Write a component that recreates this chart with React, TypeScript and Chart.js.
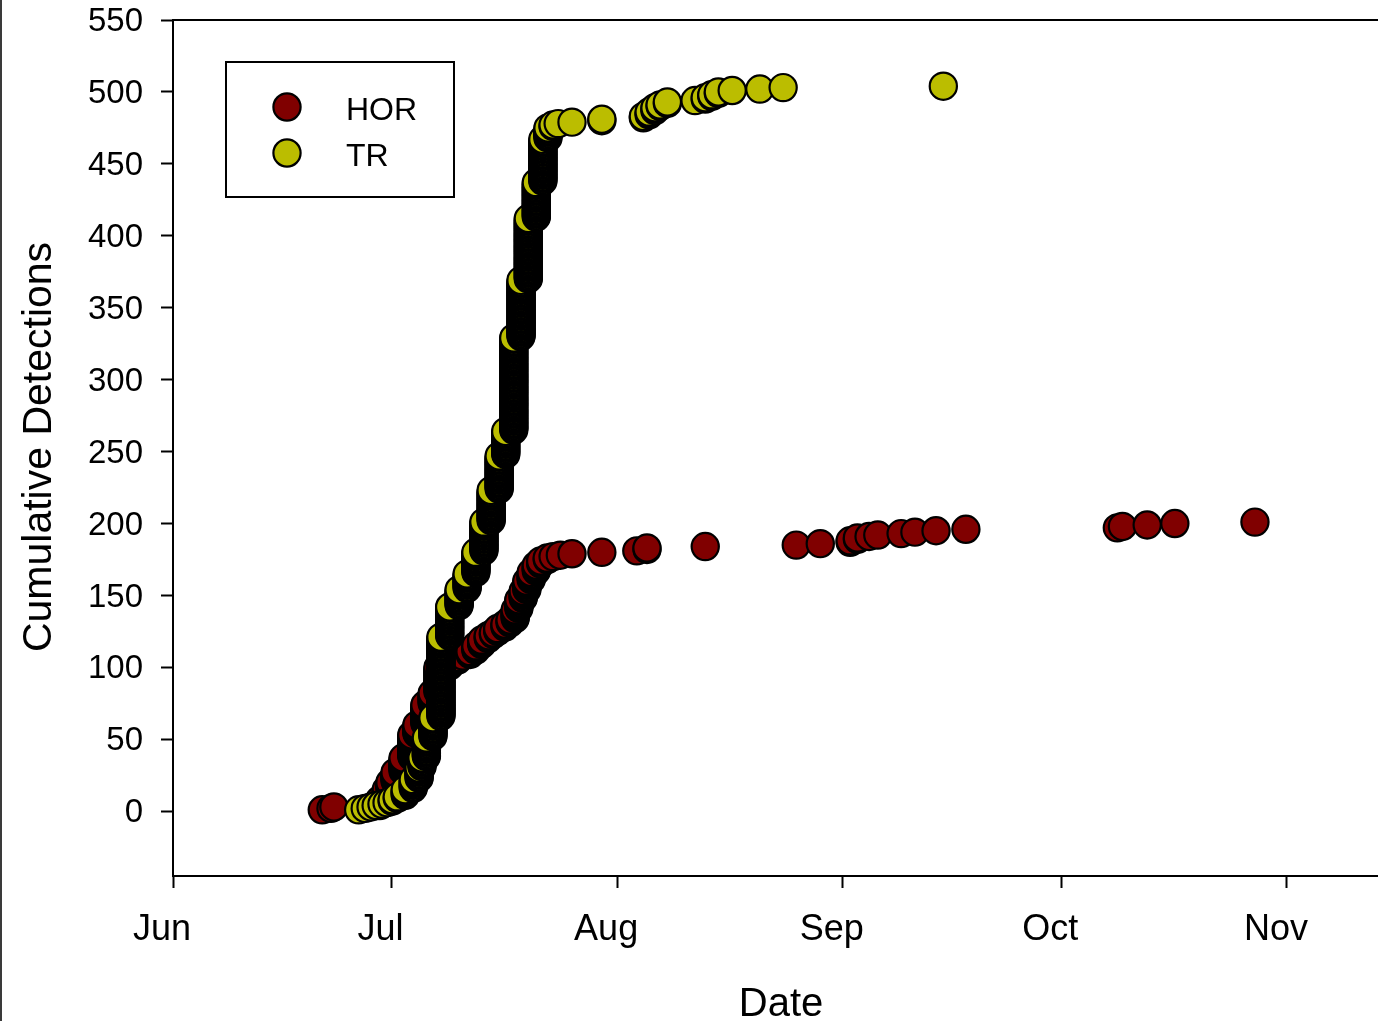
import React, { useEffect, useRef } from "react";
import { Chart, registerables } from "chart.js";

Chart.register(...registerables);

// ---- axis definitions (x = days since June 1) ----
const MONTH_LABELS = ["Jun", "Jul", "Aug", "Sep", "Oct", "Nov"];
const MONTH_DAYS = [0, 30, 61, 92, 122, 153];
const Y_TICKS = [0, 50, 100, 150, 200, 250, 300, 350, 400, 450, 500, 550];

// ---- HOR: detection time (days since Jun 1) and cumulative detections reached ----
const HOR_DAYS = [
  20.5, 21.7, 22.1, 28.4, 29.3, 29.8, 30.5, 31.6, 32.8, 33.5,
  34.6, 35.6, 36.4, 38.0, 39.1, 39.8, 40.8, 41.6, 42.4, 43.3,
  44.0, 44.6, 45.6, 46.3, 47.0, 47.5, 48.1, 48.6, 49.2, 49.9,
  50.5, 51.4, 52.2, 53.2, 54.8, 58.9, 63.7, 65.1, 73.1, 85.6,
  88.9, 93.0, 94.0, 95.6, 96.8, 100.0, 101.9, 104.8, 108.9, 129.7,
  130.4, 133.8, 137.6, 148.6,
];
const HOR_CUM = [
  1, 2, 3, 8, 15, 20, 27, 37, 53, 60,
  74, 82, 100, 104, 107, 108, 111, 115, 119, 122,
  124, 127, 130, 133, 140, 147, 153, 160, 166, 171,
  174, 176, 177, 178, 179, 180, 181, 183, 184, 185,
  186, 188, 190, 191, 192, 193, 194, 195, 196, 197,
  198, 199, 200, 201,
];

// ---- TR ----
const TR_DAYS = [
  25.5, 26.4, 27.2, 27.9, 28.7, 29.4, 30.1, 30.8, 31.9, 33.0,
  33.8, 34.2, 34.8, 35.7, 36.8, 38.0, 39.3, 40.4, 41.6, 42.7,
  43.7, 44.8, 45.7, 46.8, 47.8, 48.8, 49.9, 50.8, 51.5, 52.2,
  52.9, 54.8, 58.9, 64.6, 65.4, 66.2, 66.9, 67.9, 71.7, 73.1,
  74.0, 74.9, 76.8, 80.6, 83.8, 105.8,
];
const TR_CUM = [
  1, 2, 3, 4, 5, 6, 8, 10, 15, 22,
  30, 37, 51, 65, 121, 142, 154, 165, 180, 201,
  223, 247, 264, 329, 369, 412, 437, 467, 475, 477,
  478, 479, 481, 483, 486, 489, 491, 493, 494, 496,
  498, 500, 501, 502, 503, 504,
];

const SERIES_NAMES = ["HOR", "TR"];
const SERIES_COLORS = ["#800000", "#BBBD00"];

const FONT = "'Liberation Sans', Arial, Helvetica, sans-serif";

// one point per detection: cumulative count rises by one per detection
function toDetections(days: number[], cum: number[]) {
  const pts: { x: number; y: number }[] = [];
  let prev = 0;
  for (let i = 0; i < days.length; i++) {
    for (let c = prev + 1; c <= cum[i]; c++) pts.push({ x: days[i], y: c });
    prev = cum[i];
  }
  return pts;
}

function zeroPadding(s: any) {
  s.paddingTop = 0;
  s.paddingBottom = 0;
  s.paddingLeft = 0;
  s.paddingRight = 0;
}

const decorPlugin = {
  id: "decor",
  beforeDraw(chart: any) {
    const ctx = chart.ctx;
    ctx.save();
    ctx.fillStyle = "#ffffff";
    ctx.fillRect(0, 0, chart.width, chart.height);
    ctx.restore();
  },
  afterDraw(chart: any) {
    const ctx = chart.ctx;
    const { left, right, top } = chart.chartArea;
    ctx.save();
    // left edge dark line
    ctx.fillStyle = "#3a3a3a";
    ctx.fillRect(0, 0, 2, chart.height);
    // top frame line
    ctx.strokeStyle = "#000";
    ctx.lineWidth = 2;
    ctx.beginPath();
    ctx.moveTo(left, top);
    ctx.lineTo(right, top);
    ctx.stroke();
    // axis titles
    ctx.fillStyle = "#000";
    ctx.font = `40px ${FONT}`;
    ctx.textAlign = "center";
    ctx.textBaseline = "alphabetic";
    ctx.fillText("Date", 781, 1016);
    ctx.save();
    ctx.font = `41px ${FONT}`;
    ctx.translate(51, 447);
    ctx.rotate(-Math.PI / 2);
    ctx.fillText("Cumulative Detections", 0, 0);
    ctx.restore();
    // legend
    ctx.fillStyle = "#fff";
    ctx.fillRect(226, 62, 228, 135);
    ctx.strokeStyle = "#000";
    ctx.lineWidth = 2;
    ctx.strokeRect(226, 62, 228, 135);
    const ys = [107, 153];
    for (let i = 0; i < 2; i++) {
      ctx.beginPath();
      ctx.arc(287, ys[i], 13.6, 0, Math.PI * 2);
      ctx.fillStyle = SERIES_COLORS[i];
      ctx.fill();
      ctx.lineWidth = 2.2;
      ctx.strokeStyle = "#000";
      ctx.stroke();
      ctx.fillStyle = "#000";
      ctx.font = `32px ${FONT}`;
      ctx.textAlign = "left";
      ctx.textBaseline = "alphabetic";
      ctx.fillText(SERIES_NAMES[i], 346, ys[i] + 13);
    }
    ctx.restore();
  },
};

export default function App() {
  const ref = useRef<HTMLCanvasElement | null>(null);

  useEffect(() => {
    if (!ref.current) return;
    const chart = new Chart(ref.current, {
      type: "scatter",
      data: {
        datasets: [
          {
            label: SERIES_NAMES[0],
            data: toDetections(HOR_DAYS, HOR_CUM),
            backgroundColor: SERIES_COLORS[0],
            borderColor: "#000",
            borderWidth: 2.2,
            pointRadius: 13.6,
            order: 2,
          },
          {
            label: SERIES_NAMES[1],
            data: toDetections(TR_DAYS, TR_CUM),
            backgroundColor: SERIES_COLORS[1],
            borderColor: "#000",
            borderWidth: 2.2,
            pointRadius: 13.6,
            order: 1,
          },
        ],
      },
      options: {
        responsive: false,
        animation: false,
        events: [],
        layout: { autoPadding: false, padding: { left: 0, right: 0, top: 20, bottom: 0 } },
        plugins: {
          legend: { display: false },
          tooltip: { enabled: false },
          title: { display: false },
        },
        scales: {
          x: {
            type: "linear",
            min: 0,
            max: 165.5,
            afterFit: (s: any) => {
              s.height = 145;
              zeroPadding(s);
            },
            afterBuildTicks: (s: any) => {
              s.ticks = MONTH_DAYS.map((v) => ({ value: v }));
            },
            ticks: {
              autoSkip: false,
              maxRotation: 0,
              minRotation: 0,
              color: "#000",
              font: { family: FONT, size: 36 },
              padding: 20,
              labelOffset: -11,
              callback: (_v: any, i: number) => MONTH_LABELS[i],
            },
            grid: {
              drawOnChartArea: false,
              drawTicks: true,
              tickLength: 12,
              tickWidth: 2,
              tickColor: "#000",
            },
            border: { display: true, color: "#000", width: 2 },
          },
          y: {
            type: "linear",
            min: -45,
            max: 550,
            afterFit: (s: any) => {
              s.width = 173;
              zeroPadding(s);
            },
            afterBuildTicks: (s: any) => {
              s.ticks = Y_TICKS.map((v) => ({ value: v }));
            },
            ticks: {
              autoSkip: false,
              color: "#000",
              font: { family: FONT, size: 33 },
              padding: 18,
              labelOffset: 2,
            },
            grid: {
              drawOnChartArea: false,
              drawTicks: true,
              tickLength: 12,
              tickWidth: 2,
              tickColor: "#000",
            },
            border: { display: true, color: "#000", width: 2 },
          },
        },
      },
      plugins: [decorPlugin],
    });
    return () => chart.destroy();
  }, []);

  return (
    <div style={{ position: "absolute", left: 0, top: 0, width: 1378, height: 1021 }}>
      <canvas ref={ref} width={1378} height={1021} style={{ display: "block" }} />
    </div>
  );
}
